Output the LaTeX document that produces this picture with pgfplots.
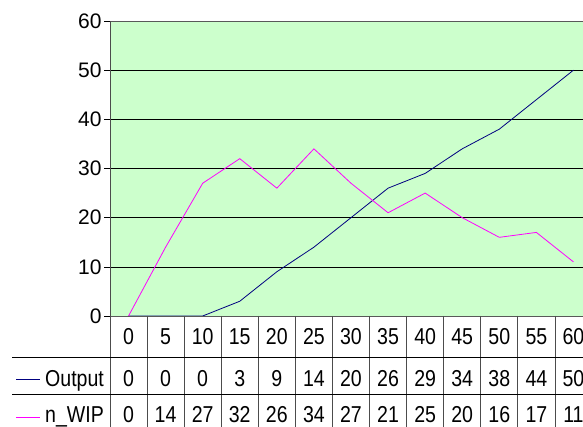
\documentclass[border=0pt]{standalone}
\usepackage{fontspec}
\setmainfont{Liberation Sans}
\newfontfamily\tabfamily[FakeStretch=0.85]{Liberation Sans}
\usepackage{pgfplots}
\pgfplotsset{compat=1.18}
\definecolor{plotbg}{HTML}{CCFFCC}
\definecolor{navyline}{HTML}{000080}
\definecolor{magline}{HTML}{FF00FF}
\newcommand\tfont{\tabfamily\fontsize{23}{26}\selectfont}
\newcommand\yfont{\fontsize{21}{24}\selectfont}
\begin{document}
\begin{tikzpicture}[x=1pt,y=1pt]
\useasboundingbox (0,0) rectangle (583,427);
\clip (0,0) rectangle (583,427);
\begin{axis}[
  at={(110pt,111pt)}, anchor=south west, scale only axis,
  width=482pt, height=295pt,
  xmin=-2.5, xmax=62.5, ymin=0, ymax=60,
  xtick=\empty, ytick={0,10,...,60},
  ymajorgrids, grid style={black, line width=0.6pt},
  axis background/.style={fill=plotbg},
  tick align=outside, major tick length=6pt,
  ytick style={black, line width=0.6pt},
  yticklabel style={font=\yfont, /pgf/number format/assume math mode=true, xshift=1pt},
  axis line style={draw=gray!70!black, line width=0.8pt},
]
\addplot[navyline, line width=0.8pt] coordinates {(0,0)(5,0)(10,0)(15,3)(20,9)(25,14)(30,20)(35,26)(40,29)(45,34)(50,38)(55,44)(60,50)};
\addplot[magline, line width=0.8pt] coordinates {(0,0)(5,14)(10,27)(15,32)(20,26)(25,34)(30,27)(35,21)(40,25)(45,20)(50,16)(55,17)(60,11)};
\draw[black, line width=0.8pt] (rel axis cs:0,0) -- (rel axis cs:1,0);
\draw[gray!60!black, line width=1.5pt] (rel axis cs:0,0) -- (rel axis cs:0,1);
\end{axis}
% data table below the plot
\foreach \k in {0,...,13} \draw[gray!60!black, line width=0.8pt] (110+37.08*\k,111) -- (110+37.08*\k,0);
\draw[black, line width=0.8pt] (12,70) -- (583,70);
\draw[black, line width=0.8pt] (12,33) -- (583,33);
\foreach \v [count=\i from 0] in {0,5,10,15,20,25,30,35,40,45,50,55,60}
  \node[font=\tfont, anchor=base, inner sep=0] at (128.5+37.08*\i, 82) {\v};
\foreach \v [count=\i from 0] in {0,0,0,3,9,14,20,26,29,34,38,44,50}
  \node[font=\tfont, anchor=base, inner sep=0] at (128.5+37.08*\i, 40) {\v};
\foreach \v [count=\i from 0] in {0,14,27,32,26,34,27,21,25,20,16,17,11}
  \node[font=\tfont, anchor=base, inner sep=0] at (128.5+37.08*\i, 4.3) {\v};
\draw[navyline, line width=0.8pt] (16,48) -- (40,48);
\node[font=\tfont, anchor=base west, inner sep=0] at (45,40) {Output};
\draw[magline, line width=0.8pt] (16,10) -- (40,10);
\node[font=\tfont, anchor=base west, inner sep=0] at (45,4.3) {n\_WIP};
\end{tikzpicture}
\end{document}
